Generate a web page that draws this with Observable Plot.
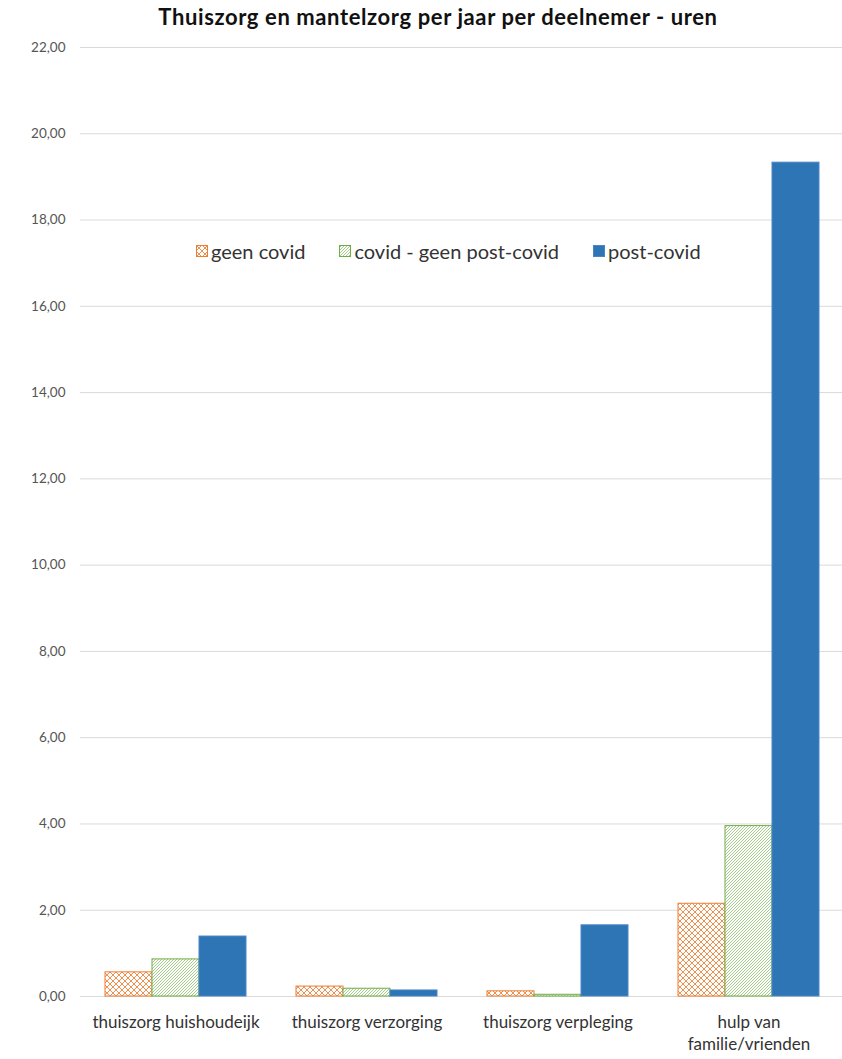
<!DOCTYPE html>
<html>
<head>
<meta charset="utf-8">
<script src="https://cdn.jsdelivr.net/npm/d3@7"></script>
<script src="https://cdn.jsdelivr.net/npm/@observablehq/plot@0.6"></script>
<style>
  html, body { margin: 0; padding: 0; background: #fff; }
  #wrap { position: relative; width: 842px; height: 1059px; font-family: Lato, "Open Sans", sans-serif; }
  #title { height: 30px; line-height: 34px; text-align: center; padding-left: 34px; box-sizing: border-box;
           font-size: 22px; letter-spacing: 0.6px; font-weight: bold; color: #111; white-space: nowrap; }
  #legend { position: absolute; top: 239px; left: 196px; display: flex; align-items: center; gap: 34px;
            font-size: 20px; color: #333; white-space: nowrap; }
  #legend .item { display: flex; align-items: center; gap: 3px; }
  #legend svg { display: block; }
  #chart svg [aria-label^="y-axis"] text { font-size: 13.5px; fill: #555; }
</style>
</head>
<body>
<svg width="0" height="0" style="position:absolute">
  <defs>
    <pattern id="pat-orange" patternUnits="userSpaceOnUse" width="6" height="6">
      <rect width="6" height="6" fill="#fff"/>
      <path d="M0,0 L6,6 M6,0 L0,6 M-1,5 L1,7 M5,-1 L7,1 M-1,1 L1,-1 M5,7 L7,5" stroke="#ED7D31" stroke-width="1" fill="none" opacity="0.85"/>
    </pattern>
    <pattern id="pat-green" patternUnits="userSpaceOnUse" width="3" height="3">
      <rect width="3" height="3" fill="#fff"/>
      <path d="M-1,1 L1,-1 M0,3 L3,0 M2,4 L4,2" stroke="#70AD47" stroke-width="0.8" fill="none" opacity="0.8"/>
    </pattern>
  </defs>
</svg>
<div id="wrap">
  <div id="title">Thuiszorg en mantelzorg per jaar per deelnemer - uren</div>
  <div id="chart"></div>
  <div id="legend"></div>
</div>
<script>
// ---- data ----
const categories = ["thuiszorg huishoudeijk", "thuiszorg verzorging", "thuiszorg verpleging", "hulp van familie/vrienden"];
const categoryLabels = ["thuiszorg huishoudeijk", "thuiszorg verzorging", "thuiszorg verpleging", "hulp van\nfamilie/vrienden"];
const seriesNames = ["geen covid", "covid - geen post-covid", "post-covid"];
const geenCovid = [0.56, 0.23, 0.12, 2.15];
const covidGeenPostCovid = [0.86, 0.18, 0.04, 3.95];
const postCovid = [1.39, 0.14, 1.65, 19.33];
const yTicks = [0, 2, 4, 6, 8, 10, 12, 14, 16, 18, 20, 22];

const seriesValues = [geenCovid, covidGeenPostCovid, postCovid];
const seriesFill = ["url(#pat-orange)", "url(#pat-green)", "#2E75B6"];
const seriesStroke = ["#ED7D31", "#70AD47", "#4A86C5"];

const rows = seriesNames.map((s, si) =>
  categories.map((c, ci) => ({cat: c, serie: s, value: seriesValues[si][ci]}))
);
const labelRows = categories.map((c, i) => ({cat: c, label: categoryLabels[i]}));

const fmt = v => d3.format(".2f")(v).replace(".", ",");

const chart = Plot.plot({
  width: 842,
  height: 1029,
  marginTop: 17,
  marginBottom: 63,
  marginLeft: 78,
  marginRight: 0,
  style: {fontFamily: "Lato, 'Open Sans', sans-serif", background: "transparent"},
  fx: {domain: categories, range: [78, 845], padding: 0, axis: null},
  x: {domain: seriesNames, axis: null, paddingInner: 0, paddingOuter: 0.5},
  y: {domain: [0, 22], ticks: yTicks, tickFormat: fmt, tickSize: 0, tickPadding: 15, label: null, line: false},
  marks: [
    Plot.ruleY(yTicks, {stroke: "#d9d9d9", strokeWidth: 1}),
    ...rows.map((r, i) => Plot.barY(r, {
      fx: "cat", x: "serie", y: "value",
      fill: seriesFill[i], stroke: seriesStroke[i], strokeWidth: 1, inset: 0
    })),
    Plot.text(labelRows, {
      fx: "cat", text: "label", frameAnchor: "bottom", lineAnchor: "top",
      dy: 16, lineHeight: 1.28, fontSize: 17, fill: "#333"
    })
  ]
});
document.getElementById("chart").appendChild(chart);

// legend
const legend = d3.select("#legend");
seriesNames.forEach((s, i) => {
  const item = legend.append("div").attr("class", "item");
  const sw = item.append("svg").attr("width", 12).attr("height", 12);
  sw.append("rect").attr("x", 0.5).attr("y", 0.5).attr("width", 11).attr("height", 11)
    .attr("fill", seriesFill[i]).attr("stroke", seriesStroke[i]);
  item.append("span").text(s);
});
</script>
</body>
</html>
